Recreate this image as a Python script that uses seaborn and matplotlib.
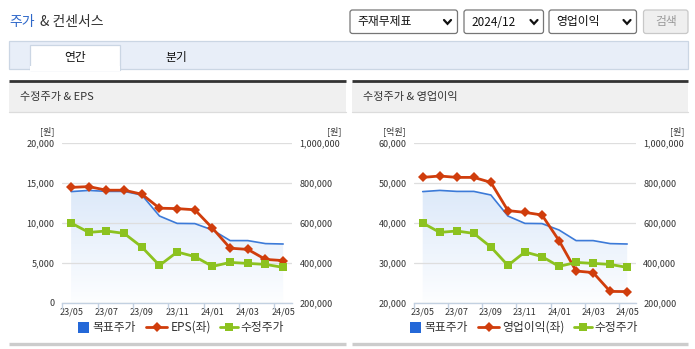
import matplotlib
matplotlib.use("Agg")
import matplotlib.pyplot as plt
from matplotlib.patches import Rectangle, FancyBboxPatch
from matplotlib.lines import Line2D
from matplotlib.ticker import FuncFormatter
import numpy as np
import seaborn as sns

# ---- data -------------------------------------------------------------
months = ["23/05", "23/06", "23/07", "23/08", "23/09", "23/10", "23/11",
          "23/12", "24/01", "24/02", "24/03", "24/04", "24/05"]
month_labels = ["23/05", "23/07", "23/09", "23/11", "24/01", "24/03", "24/05"]

target_price = [757000, 763000, 758000, 758000, 740000, 635000, 598000,
                597000, 565000, 512000, 512000, 497000, 495000]
adj_price = [600000, 553000, 560000, 548000, 480000, 388000, 455000,
             432000, 383000, 403000, 398000, 393000, 378000]
eps = [14450, 14550, 14100, 14100, 13600, 11850, 11800,
       11650, 9350, 6850, 6700, 5450, 5300]
op_income = [51400, 51750, 51400, 51400, 50150, 43100, 42650,
             42000, 35600, 28000, 27600, 22900, 22850]

price_ticks = [200000, 400000, 600000, 800000, 1000000]
eps_ticks = [0, 5000, 10000, 15000, 20000]
op_ticks = [20000, 30000, 40000, 50000, 60000]

# ---- style ------------------------------------------------------------
sns.set_style("white")
KR = ["Noto Sans CJK KR", "DejaVu Sans"]
plt.rcParams["font.family"] = KR

BLUE = "#3c7ad8"
BLUE_KEY = "#2468d8"
RED = "#d03d0c"
GREEN = "#8cc21f"
TXT = "#333333"
AXIS = "#c3d1e1"
GRID = "#dedede"

W, H = 695, 349
fig = plt.figure(figsize=(W / 100, H / 100), dpi=100)
fig.patch.set_facecolor("white")
renderer = fig.canvas.get_renderer()

# page layer in pixel coordinates
bg = fig.add_axes([0, 0, 1, 1])
bg.set_xlim(0, W)
bg.set_ylim(H, 0)
bg.axis("off")

# heading
bg.text(9, 22, "주가", color="#2f68c9", fontsize=10, va="center", ha="left")
bg.text(40.5, 22, "& 컨센서스", color="#333333", fontsize=10, va="center", ha="left")


def chevron(cx, cy):
    bg.plot([cx - 3.5, cx, cx + 3.5], [cy - 2, cy + 1.8, cy - 2],
            color="#111111", lw=1.6, solid_capstyle="round", solid_joinstyle="miter")


def select_box(x0, x1, label, chev_x):
    bg.add_patch(FancyBboxPatch((x0, 10), x1 - x0, 23.5,
                                boxstyle="round,pad=0,rounding_size=2.5",
                                facecolor="white", edgecolor="#767676", lw=0.9))
    bg.text(x0 + 7, 22, label, fontsize=8.5, color="#111111", va="center", ha="left")
    chevron(chev_x, 22)


select_box(350, 457.5, "주재무제표", 447.5)
select_box(464, 543.5, "2024/12", 534)
select_box(549, 636.5, "영업이익", 627)
bg.add_patch(FancyBboxPatch((643.5, 10), 44.5, 23.5,
                            boxstyle="round,pad=0,rounding_size=2.5",
                            facecolor="#efefef", edgecolor="#c8c8c8", lw=0.9))
bg.text(665.7, 22, "검색", fontsize=8.5, color="#9a9a9a", va="center", ha="center")

# tab bar
bg.add_patch(Rectangle((9, 40.5), 679, 28.8, facecolor="#e8eef8",
                       edgecolor="#cbd6e4", lw=0.9))
bg.add_patch(Rectangle((29.5, 45.2), 90.8, 25, facecolor="white",
                       edgecolor="#cbd6e4", lw=0.9))
bg.add_patch(Rectangle((30.2, 66), 89.4, 5, facecolor="white", edgecolor="none"))
bg.text(75.5, 57, "연간", fontsize=8.5, color="#111111", va="center", ha="center")
bg.text(176, 57, "분기", fontsize=8.5, color="#111111", va="center", ha="center")


def panel(x0, x1, title):
    bg.add_patch(Rectangle((x0, 82), x1 - x0, 29.7, facecolor="#f0f0f0",
                           edgecolor="none"))
    bg.plot([x0, x1], [111.7, 111.7], color="#dcdcdc", lw=0.9)
    bg.plot([x0, x1], [80.7, 80.7], color="#333333", lw=2.0, solid_capstyle="butt")
    bg.plot([x0, x1], [344.3, 344.3], color="#cccccc", lw=2.4, solid_capstyle="butt")
    bg.text(x0 + 11, 97, title, fontsize=8, color=TXT, va="center", ha="left")


panel(9, 345.5, "수정주가 & EPS")
panel(352, 688, "수정주가 & 영업이익")

fmt = FuncFormatter(lambda v, p: f"{int(v):,}")
x_idx = np.arange(len(months))


def text_width(s, size):
    t = bg.text(0, 0, s, fontsize=size)
    w = t.get_window_extent(renderer=renderer).width
    t.remove()
    return w


def legend_row(center, left_name, ly=327, size=8.5):
    names = ["목표주가", left_name, "수정주가"]
    widths = [text_width(n, size) for n in names]
    sq, key_r, key_g = 11, 21, 18
    total = (sq + 4 + widths[0] + 10 + key_r + 3 + widths[1] + 9
             + key_g + 3 + widths[2])
    x = center - total / 2
    bg.add_patch(Rectangle((x, ly - 5.5), sq, 11, facecolor=BLUE_KEY,
                           edgecolor="none"))
    x += sq + 4
    bg.text(x, ly, names[0], fontsize=size, color=TXT, va="center", ha="left")
    x += widths[0] + 10
    bg.add_line(Line2D([x, x + key_r], [ly, ly], color=RED, lw=2.0))
    bg.add_line(Line2D([x + key_r / 2], [ly], color=RED, marker="D",
                       markersize=4.6, markeredgewidth=0))
    x += key_r + 3
    bg.text(x, ly, names[1], fontsize=size, color=TXT, va="center", ha="left")
    x += widths[1] + 9
    bg.add_line(Line2D([x, x + key_g], [ly, ly], color=GREEN, lw=2.0))
    bg.add_line(Line2D([x + key_g / 2], [ly], color=GREEN, marker="s",
                       markersize=6, markeredgewidth=0))
    x += key_g + 3
    bg.text(x, ly, names[2], fontsize=size, color=TXT, va="center", ha="left")


def chart(x0, x1, left_vals, left_ticks, left_unit, left_name, legend_center):
    ax = fig.add_axes([x0 / W, 1 - 303 / H, (x1 - x0) / W, 160 / H])
    ax_l = ax.twinx()
    ax_g = ax.twinx()

    for a in (ax, ax_l, ax_g):
        a.patch.set_visible(False)
        for s in a.spines.values():
            s.set_visible(False)

    # price scale (right), with gradient area under the target price
    area = ax.fill_between(x_idx, target_price, price_ticks[0],
                           facecolor="none", edgecolor="none")
    grad = np.linspace(0, 1, 256).reshape(-1, 1)
    cmap = matplotlib.colors.LinearSegmentedColormap.from_list(
        "area", ["#fdfeff", "#dbe8f9"])
    im = ax.imshow(grad, extent=[-0.5, 12.5, price_ticks[0], 790000],
                   origin="lower", aspect="auto", cmap=cmap, zorder=0,
                   interpolation="bilinear")
    im.set_clip_path(area.get_paths()[0], transform=ax.transData)
    area.remove()

    sns.lineplot(x=x_idx, y=target_price, ax=ax, color=BLUE, linewidth=1.2,
                 legend=False, zorder=2)
    sns.lineplot(x=x_idx, y=left_vals, ax=ax_l, color=RED, linewidth=2.0,
                 marker="D", markersize=4.6, markeredgewidth=0, legend=False)
    sns.lineplot(x=x_idx, y=adj_price, ax=ax_g, color=GREEN, linewidth=2.0,
                 marker="s", markersize=6, markeredgewidth=0, legend=False)

    for a in (ax, ax_l, ax_g):
        a.set_xlim(-0.5, 12.5)
        a.set_xlabel("")
        a.set_ylabel("")
    ax.set_ylim(price_ticks[0], price_ticks[-1])
    ax_g.set_ylim(price_ticks[0], price_ticks[-1])
    ax_l.set_ylim(left_ticks[0], left_ticks[-1])

    # axes decoration
    ax.yaxis.tick_right()
    ax.set_yticks(price_ticks)
    ax.yaxis.set_major_formatter(fmt)
    ax.tick_params(axis="y", length=0, pad=5.5, labelsize=6.5, labelcolor=TXT)
    ax.set_axisbelow("line")
    ax.yaxis.grid(True, color=GRID, lw=0.9)
    ax.xaxis.grid(False)

    ax_l.yaxis.tick_left()
    ax_l.set_yticks(left_ticks)
    ax_l.yaxis.set_major_formatter(fmt)
    ax_l.tick_params(axis="y", length=0, pad=5.5, labelsize=6.5, labelcolor=TXT)
    ax_l.grid(False)
    ax_g.set_yticks([])
    ax_g.grid(False)

    ax.spines["bottom"].set_visible(True)
    ax.spines["bottom"].set_color(AXIS)
    ax.spines["bottom"].set_linewidth(1.0)
    ax.set_xticks(x_idx[::2])
    ax.set_xticklabels(month_labels)
    ax.set_xticks(np.arange(-0.5, 12.6, 2), minor=True)
    ax.tick_params(axis="x", which="major", length=0, pad=3.5, labelsize=6.5,
                   labelcolor=TXT)
    ax.tick_params(axis="x", which="minor", length=4, width=1.0, color=AXIS,
                   direction="out", bottom=True)

    # unit labels
    bg.text(x0 - 8, 131, left_unit, fontsize=6.5, color=TXT, ha="right", va="center")
    bg.text(x1 + 49, 131, "[원]", fontsize=6.5, color=TXT, ha="right", va="center")

    legend_row(legend_center, left_name)
    return ax


chart(62.3, 292, eps, eps_ticks, "[원]", "EPS(좌)", 181)
chart(414.2, 635.7, op_income, op_ticks, "[억원]", "영업이익(좌)", 524)

fig.savefig("out.png", dpi=100, facecolor="white")
